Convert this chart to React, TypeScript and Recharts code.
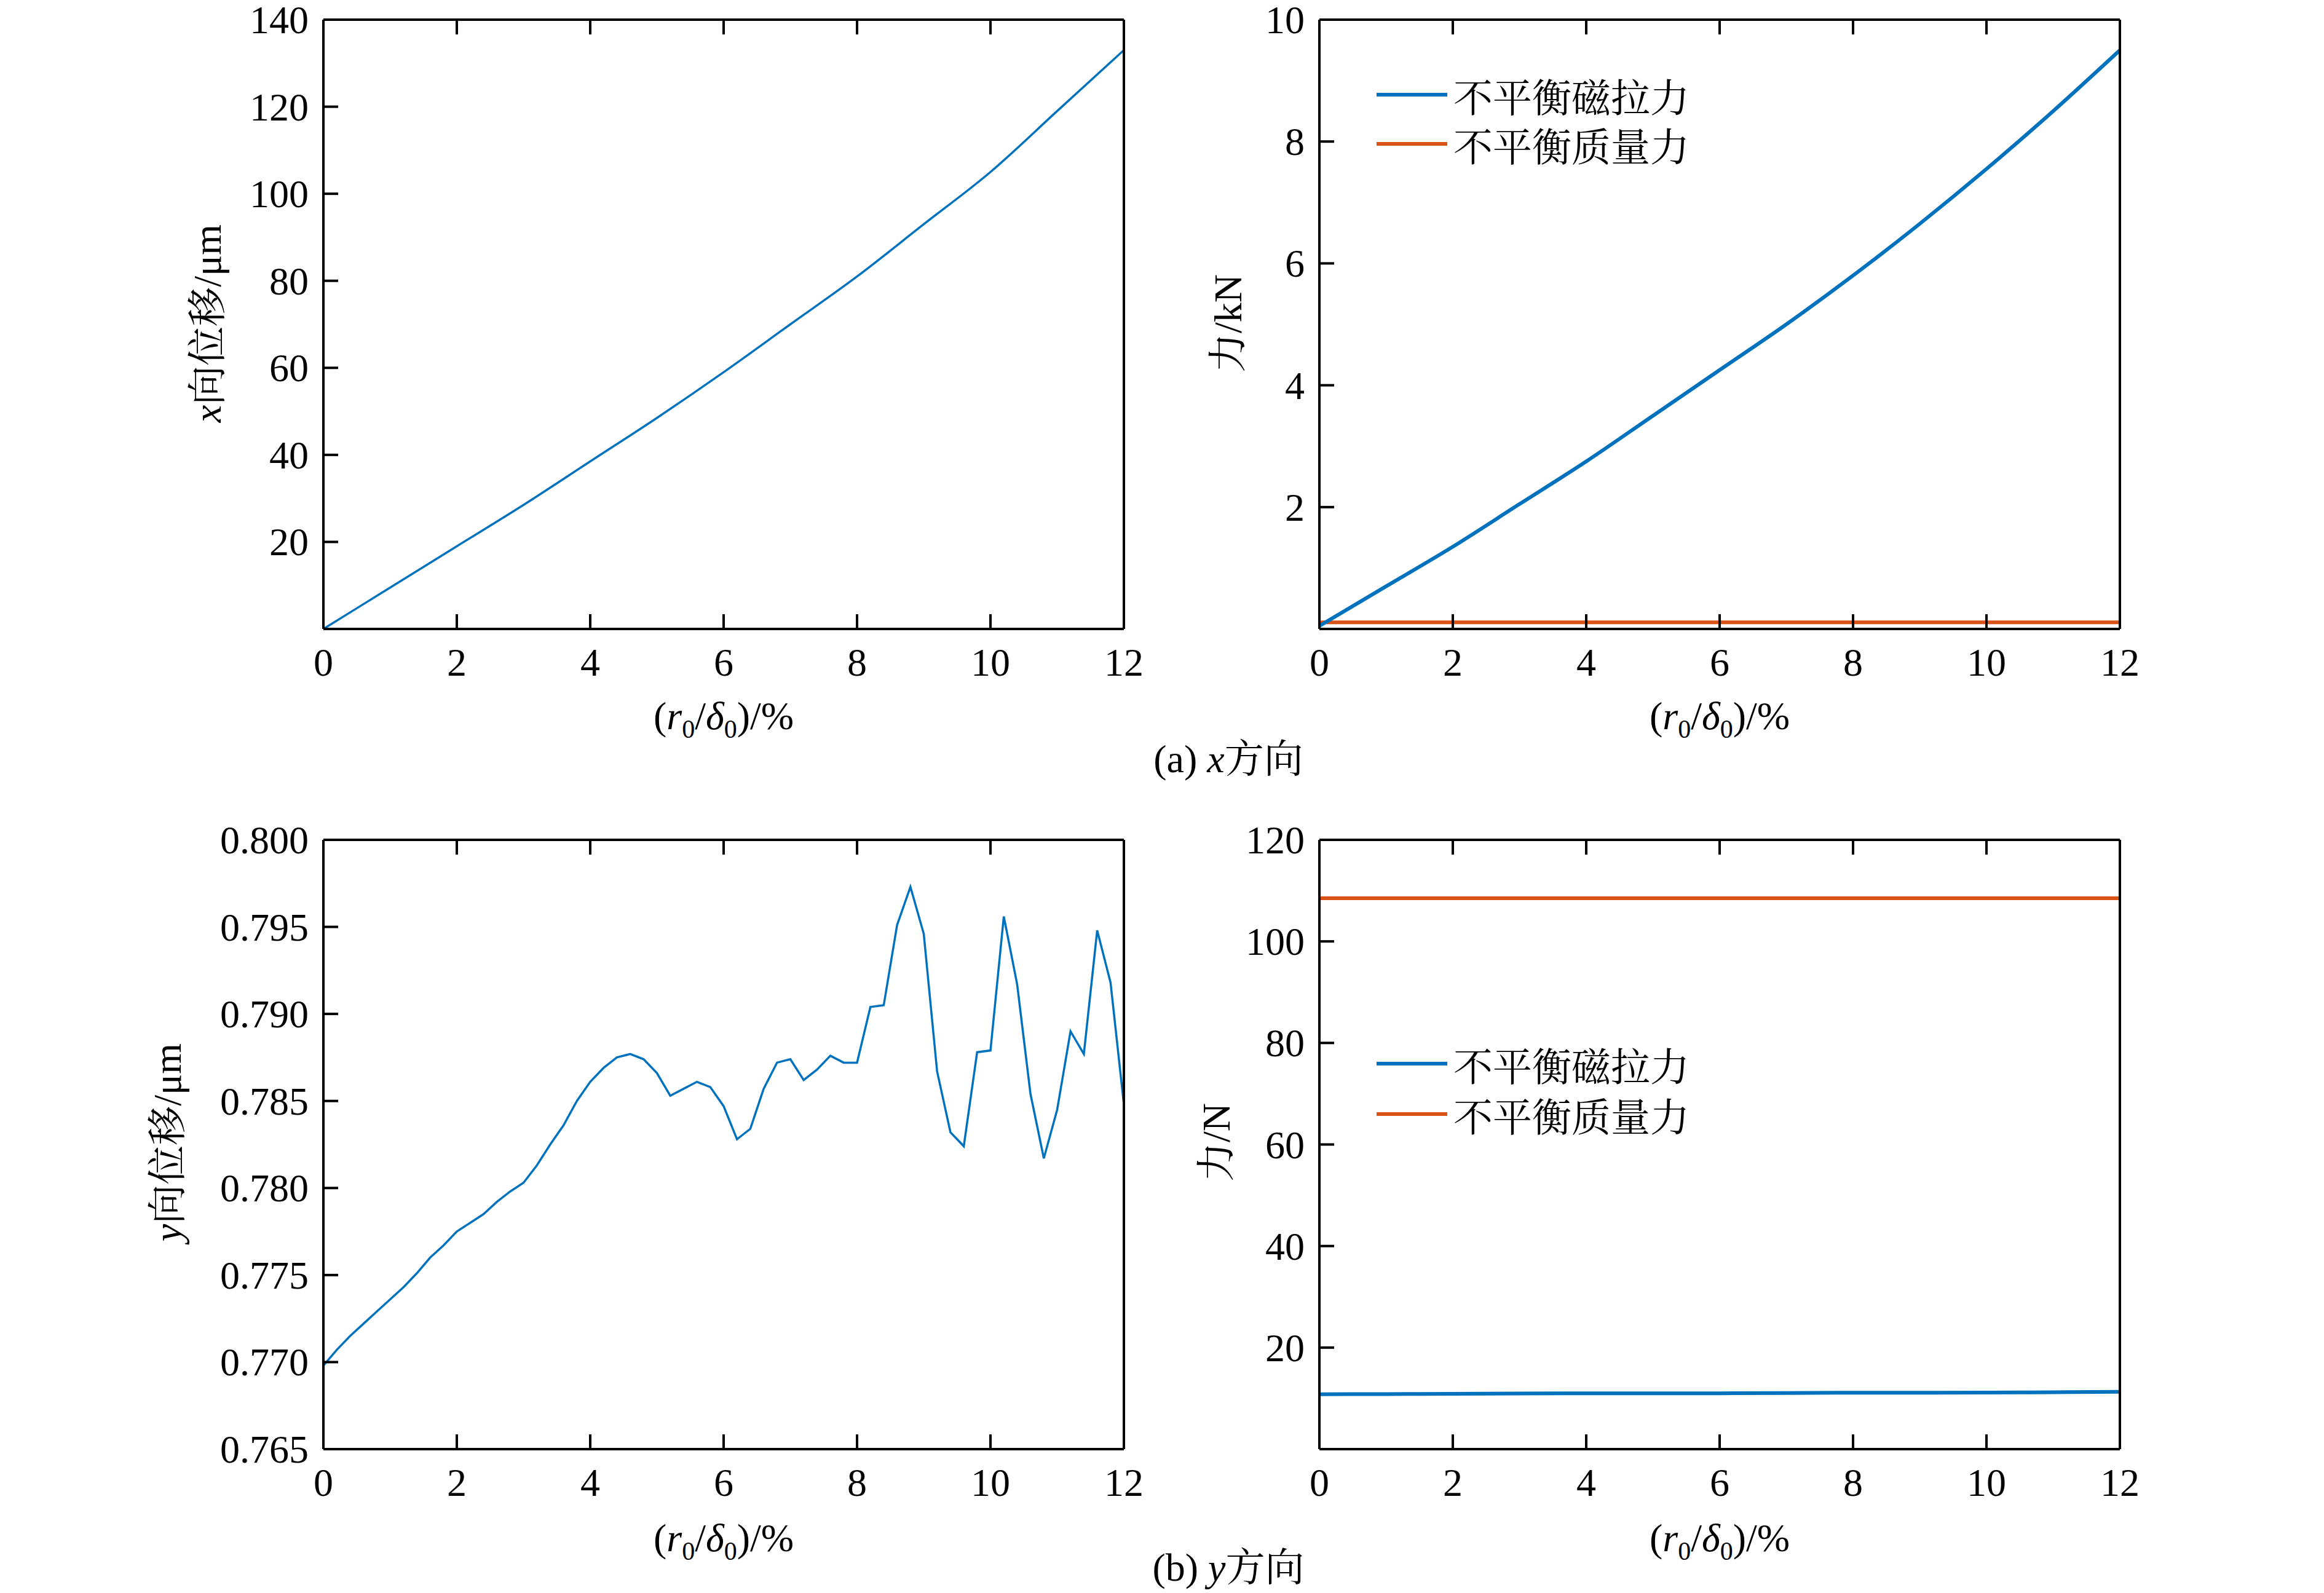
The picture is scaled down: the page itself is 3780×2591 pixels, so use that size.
import React from 'react';
import { LineChart, Line, XAxis, YAxis } from 'recharts';

const xTicks = [0, 2, 4, 6, 8, 10, 12];
const rAx = [0, 1, 2, 3, 4, 5, 6, 7, 8, 9, 10, 11, 12];
const xDisp = [0, 9.5, 19, 28.5, 38.5, 48.5, 59, 70, 81, 93, 105, 119, 133];
const fxMag = [0.05, 0.7, 1.35, 2.05, 2.75, 3.5, 4.25, 5.0, 5.8, 6.65, 7.55, 8.5, 9.5];
const fxMass = [0.108, 0.108, 0.108, 0.108, 0.108, 0.108, 0.108, 0.108, 0.108, 0.108, 0.108, 0.108, 0.108];
const rFine = [0,0.2,0.4,0.6,0.8,1,1.2,1.4,1.6,1.8,2,2.2,2.4,2.6,2.8,3,3.2,3.4,3.6,3.8,4,4.2,4.4,4.6,4.8,5,5.2,5.4,5.6,5.8,6,6.2,6.4,6.6,6.8,7,7.2,7.4,7.6,7.8,8,8.2,8.4,8.6,8.8,9,9.2,9.4,9.6,9.8,10,10.2,10.4,10.6,10.8,11,11.2,11.4,11.6,11.8,12];
const yDisp = [0.7698,0.7707,0.7715,0.7722,0.7729,0.7736,0.7743,0.7751,0.7760,0.7767,0.7775,0.7780,0.7785,0.7792,0.7798,0.7803,0.7813,0.7825,0.7836,0.7850,0.7861,0.7869,0.7875,0.7877,0.7874,0.7866,0.7853,0.7857,0.7861,0.7858,0.7847,0.7828,0.7834,0.7857,0.7872,0.7874,0.7862,0.7868,0.7876,0.7872,0.7872,0.7904,0.7905,0.7951,0.7973,0.7946,0.7867,0.7832,0.7824,0.7878,0.7879,0.7956,0.7917,0.7854,0.7817,0.7845,0.7890,0.7877,0.7948,0.7918,0.7848];
const fyMag = [10.8, 10.85, 10.9, 10.95, 11.0, 11.0, 11.0, 11.05, 11.1, 11.1, 11.15, 11.2, 11.3];
const fyMass = [108.5, 108.5, 108.5, 108.5, 108.5, 108.5, 108.5, 108.5, 108.5, 108.5, 108.5, 108.5, 108.5];

const legendNames = ['不平衡磁拉力', '不平衡质量力'];
const BLUE = '#0072BD';
const ORANGE = '#D95319';
const FONT = '"Liberation Serif", "Noto Serif CJK SC", "Noto Sans CJK SC", serif';
const FS = 64;
const TL = 24;

const PW = 1302;
const ML = 300, MR = 200, MT = 60, MB = 150;

function mkTick(orient: string, fmt?: (v: number) => string) {
  return (p: any) => {
    const { x, y, payload } = p;
    const v = payload.value;
    const label = fmt ? fmt(v) : '';
    if (orient === 'bottom') {
      return (
        <g>
          <line x1={x} y1={y} x2={x} y2={y - TL} stroke="#000" strokeWidth={4} />
          <text x={x} y={y + 76} textAnchor="middle" fontSize={FS} fontFamily={FONT} fill="#000">{label}</text>
        </g>
      );
    }
    if (orient === 'top') {
      return <line x1={x} y1={y} x2={x} y2={y + TL} stroke="#000" strokeWidth={4} />;
    }
    if (orient === 'left') {
      return (
        <g>
          <line x1={x} y1={y} x2={x + TL} y2={y} stroke="#000" strokeWidth={4} />
          <text x={x - 24} y={y + 22} textAnchor="end" fontSize={FS} fontFamily={FONT} fill="#000">{label}</text>
        </g>
      );
    }
    return <line x1={x} y1={y} x2={x - TL} y2={y} stroke="#000" strokeWidth={4} />;
  };
}

function Panel({ left, top, ph, data, series, yDomain, yTicks, fmt }: any) {
  return (
    <div style={{ position: 'absolute', left: left - ML, top: top - MT }}>
      <LineChart width={PW + ML + MR} height={ph + MT + MB} data={data}
        margin={{ left: ML - 150, top: MT - 1, right: MR - 1, bottom: MB - 100 }}>
        <XAxis dataKey="x" type="number" domain={[0, 12]} ticks={xTicks} height={100}
          stroke="#000" strokeWidth={4} tickSize={0} tickMargin={0} tickLine={false}
          tick={mkTick('bottom', (v) => String(v))} interval={0} />
        <XAxis xAxisId="top" orientation="top" dataKey="x" type="number" domain={[0, 12]} ticks={xTicks}
          height={1} stroke="#000" strokeWidth={4} tickSize={0} tickMargin={0} tickLine={false}
          tick={mkTick('top')} interval={0} />
        <YAxis type="number" domain={yDomain} ticks={yTicks} width={150} stroke="#000" strokeWidth={4}
          tickSize={0} tickMargin={0} tickLine={false} tick={mkTick('left', fmt)} interval={0} allowDataOverflow />
        <YAxis yAxisId="right" orientation="right" type="number" domain={yDomain} ticks={yTicks} width={1}
          stroke="#000" strokeWidth={4} tickSize={0} tickMargin={0} tickLine={false} tick={mkTick('right')} interval={0} />
        {series.map((s: any) => (
          <Line key={s.key} dataKey={s.key} stroke={s.color} strokeWidth={s.w} dot={false}
            type={s.type || 'monotone'} isAnimationActive={false} />
        ))}
      </LineChart>
    </div>
  );
}

const XLabel = ({ cx, cy }: any) => (
  <div style={{ position: 'absolute', left: cx - 250, top: cy - 40, width: 500, textAlign: 'center', fontSize: FS, fontFamily: FONT, lineHeight: '80px' }}>
    (<i>r</i><sub style={{ fontSize: 42 }}>0</sub>/<i>δ</i><sub style={{ fontSize: 42 }}>0</sub>)/%
  </div>
);

const YLabel = ({ cx, cy, children }: any) => (
  <div style={{ position: 'absolute', left: cx - 400, top: cy - 40, width: 800, height: 80, textAlign: 'center', fontSize: FS, fontFamily: FONT, transform: 'rotate(-90deg)', lineHeight: '80px' }}>
    {children}
  </div>
);

const Legend = ({ x, y1, y2 }: any) => (
  <>
    {[y1, y2].map((y, i) => (
      <div key={i} style={{ position: 'absolute', left: x, top: y - 40, height: 80, display: 'flex', alignItems: 'center', fontSize: 64, fontFamily: FONT }}>
        <div style={{ width: 115, height: 6, background: i === 0 ? BLUE : ORANGE, marginRight: 10 }} />
        <span>{legendNames[i]}</span>
      </div>
    ))}
  </>
);

export default function App() {
  const d1 = rAx.map((x, i) => ({ x, v: xDisp[i] }));
  const d2 = rAx.map((x, i) => ({ x, a: fxMag[i], b: fxMass[i] }));
  const d3 = rFine.map((x, i) => ({ x, v: yDisp[i] }));
  const d4 = rAx.map((x, i) => ({ x, a: fyMag[i], b: fyMass[i] }));
  const blank0 = (v: number) => (v === 0 ? '' : String(v));
  return (
    <div style={{ position: 'absolute', left: 0, top: 0, width: 3780, height: 2591, background: '#fff', fontFamily: FONT, overflow: 'hidden' }}>
      <Panel left={526} top={32} ph={991} data={d1} yDomain={[0, 140]} yTicks={[0, 20, 40, 60, 80, 100, 120, 140]} fmt={blank0}
        series={[{ key: 'v', color: BLUE, w: 3.5 }]} />
      <Panel left={2146} top={32} ph={991} data={d2} yDomain={[0, 10]} yTicks={[0, 2, 4, 6, 8, 10]} fmt={blank0}
        series={[{ key: 'b', color: ORANGE, w: 6 }, { key: 'a', color: BLUE, w: 6 }]} />
      <Panel left={526} top={1366} ph={991} data={d3} yDomain={[0.765, 0.8]} yTicks={[0.765, 0.77, 0.775, 0.78, 0.785, 0.79, 0.795, 0.8]}
        fmt={(v: number) => v.toFixed(3)} series={[{ key: 'v', color: BLUE, w: 3.5, type: 'linear' }]} />
      <Panel left={2146} top={1366} ph={991} data={d4} yDomain={[0, 120]} yTicks={[0, 20, 40, 60, 80, 100, 120]} fmt={blank0}
        series={[{ key: 'b', color: ORANGE, w: 6 }, { key: 'a', color: BLUE, w: 6 }]} />

      <XLabel cx={1177} cy={1165} />
      <XLabel cx={2797} cy={1165} />
      <XLabel cx={1177} cy={2502} />
      <XLabel cx={2797} cy={2502} />

      <YLabel cx={338} cy={526}><i>x</i>向位移/μm</YLabel>
      <YLabel cx={1998} cy={526}>力/kN</YLabel>
      <YLabel cx={273} cy={1858}><i>y</i>向位移/μm</YLabel>
      <YLabel cx={1979} cy={1858}>力/N</YLabel>

      <Legend x={2239} y1={154} y2={234} />
      <Legend x={2239} y1={1730} y2={1812} />

      <div style={{ position: 'absolute', left: 1698, top: 1195, width: 600, textAlign: 'center', fontSize: FS, lineHeight: '80px' }}>(a) <i>x</i>方向</div>
      <div style={{ position: 'absolute', left: 1698, top: 2510, width: 600, textAlign: 'center', fontSize: FS, lineHeight: '80px' }}>(b) <i>y</i>方向</div>
    </div>
  );
}
